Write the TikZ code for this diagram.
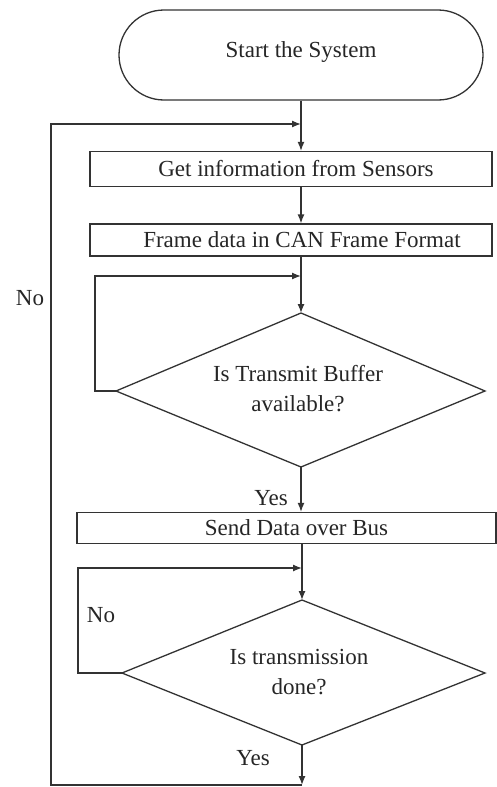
\documentclass[tikz,border=0pt]{standalone}
\usepackage{fontspec}
\setmainfont{Liberation Serif}
\usetikzlibrary{arrows.meta,calc}
\begin{document}
\begin{tikzpicture}[x=1pt,y=-1pt,
  every node/.style={font=\fontsize{23}{30}\selectfont, text=black!85},
  ln/.style={draw=black!80, line width=1.3pt},
  arr/.style={ln, -{Latex[length=9pt,width=7pt]}},
  term/.style={ln, rectangle, rounded corners=45pt, minimum width=364pt, minimum height=90pt, inner sep=0pt},
  procbox/.style={ln, rectangle, inner sep=0pt},
  dtext/.style={inner sep=0pt, align=center},
  lbl/.style={inner sep=0pt}]
\useasboundingbox (0,0) rectangle (497,787);
\fill[white] (0,0) rectangle (497,787);
% nodes
\node[term] (start) at (301,55) {\raisebox{10pt}{Start the System}};
\node[procbox, minimum width=402pt, minimum height=35pt] (b1) at (291,169) {\hspace*{10pt}Get information from Sensors};
\node[procbox, minimum width=402pt, minimum height=32pt] (b2) at (291,240) {\hspace*{22pt}Frame data in CAN Frame Format};
\node[procbox, minimum width=419pt, minimum height=31pt] (b3) at (286.5,528) {\hspace*{20pt}Send Data over Bus};
% decision shapes
\coordinate (d1n) at (301,313);
\coordinate (d1w) at (116,391);
\coordinate (d1e) at (485,391);
\coordinate (d1s) at (301,467);
\draw[ln] (d1n) -- (d1e) -- (d1s) -- (d1w) -- cycle;
\node[dtext] (d1) at (298,389) {Is Transmit Buffer\\available?};
\coordinate (d2n) at (302,600);
\coordinate (d2w) at (122,673);
\coordinate (d2e) at (485,673);
\coordinate (d2s) at (302,745);
\draw[ln] (d2n) -- (d2e) -- (d2s) -- (d2w) -- cycle;
\node[dtext] (d2) at (299,672) {Is transmission\\done?};
% labels
\node[lbl] (no1) at (30,298) {No};
\node[lbl] (yes1) at (271,498) {Yes};
\node[lbl] (no2) at (101,615) {No};
\node[lbl] (yes2) at (253,758) {Yes};
% coordinates
\coordinate (sp) at (301,0);
\coordinate (bot) at (302,785);
\coordinate (outl) at (51,785);
\coordinate (j0) at (301,124);
\coordinate (j1) at (301,276);
\coordinate (l1) at (95,391);
\coordinate (j2) at (302,568);
\coordinate (l2) at (78,673);
% connectors
\draw[arr] (start.south -| sp) -- (b1.north -| sp);
\draw[arr] (b1.south -| sp) -- (b2.north -| sp);
\draw[arr] (b2.south -| sp) -- (d1n);
\draw[arr] (d1s) -- (b3.north -| sp);
\draw[arr] (b3.south -| d2n) -- (d2n);
\draw[arr] (d2s) -- (bot);
\draw[arr] (bot) -- (outl) |- (j0);
\draw[arr] (d1w) -- (l1) |- (j1);
\draw[arr] (d2w) -- (l2) |- (j2);
\end{tikzpicture}
\end{document}
